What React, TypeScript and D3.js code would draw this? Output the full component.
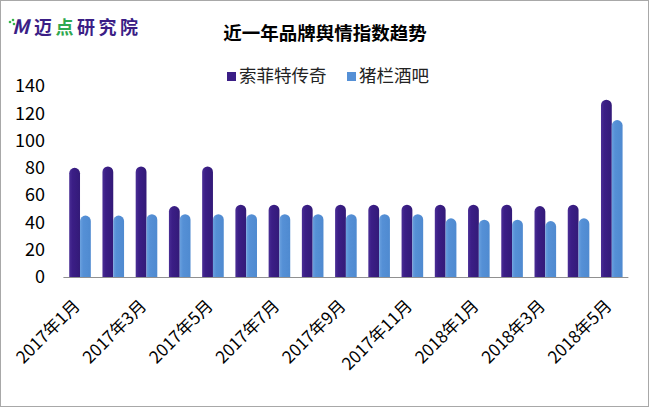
import * as d3 from 'd3';

const months = [
    '2017年1月', '2017年2月', '2017年3月', '2017年4月', '2017年5月', '2017年6月',
    '2017年7月', '2017年8月', '2017年9月', '2017年10月', '2017年11月', '2017年12月',
    '2018年1月', '2018年2月', '2018年3月', '2018年4月', '2018年5月',
];
const seriesNames = ['索菲特传奇', '猪栏酒吧'];
const sofitel = [80, 81, 81, 52, 81, 53, 53, 53, 53, 53, 53, 53, 53, 53, 52, 53, 130];
const zhulan = [45, 45, 46, 46, 46, 46, 46, 46, 46, 46, 46, 43, 42, 42, 41, 43, 115];
const yTicks = [0, 20, 40, 60, 80, 100, 120, 140];

const colors = ['#3b1e86', '#5590d6'];
const font = '"Noto Sans CJK SC", "Noto Sans", sans-serif';

function App() {
    const width = 650, height = 408;
    const left = 63.4, right = 628.4, base = 277, top = 86;

    const x0 = d3.scaleBand<string>()
        .domain(months)
        .range([left, right])
        .paddingInner(0.35)
        .paddingOuter(0.175);

    const x1 = d3.scaleBand<string>()
        .domain(seriesNames)
        .range([0, x0.bandwidth()]);

    const y = d3.scaleLinear()
        .domain([0, 140])
        .range([base, top]);

    const series = [sofitel, zhulan];

    // column with a round top
    const bar = (x: number, w: number, v: number) => {
        const r = w / 2;
        const t = y(v);
        return `M${x},${base}L${x},${t + r}A${r},${r} 0 0 1 ${x + w},${t + r}L${x + w},${base}Z`;
    };

    return (
        <svg width={width} height={height} style={{ position: 'absolute', left: 0, top: 0, display: 'block' }}
            fontFamily={font}>
            <defs>
                <linearGradient id="g0" x1="0" x2="1" y1="0" y2="0">
                    <stop offset="0" stopColor="#4a2e95" />
                    <stop offset="0.3" stopColor="#3b1e86" />
                    <stop offset="1" stopColor="#331a78" />
                </linearGradient>
                <linearGradient id="g1" x1="0" x2="1" y1="0" y2="0">
                    <stop offset="0" stopColor="#6aa0de" />
                    <stop offset="0.3" stopColor="#5590d6" />
                    <stop offset="1" stopColor="#4f8ad0" />
                </linearGradient>
            </defs>
            <rect x={0.5} y={0.5} width={width - 2} height={height - 2} fill="#fff" stroke="#a8a8a8" />

            {/* logo */}
            <g fontWeight="bold" fontSize={18}>
                <circle cx={10} cy={22} r={1.3} fill="#39b54a" />
                <circle cx={13} cy={20} r={1.3} fill="#39b54a" />
                <circle cx={14} cy={24} r={1.3} fill="#39b54a" />
                <text x={12} y={34} fill="#3b1e86" fontStyle="italic" fontSize={20}>M</text>
                <text x={34} y={34} fill="#3b1e86" letterSpacing={3.5}>
                    迈<tspan fill="#2fa84f">点</tspan>研究院
                </text>
            </g>

            <text x={325} y={40} textAnchor="middle" fontWeight="bold" fontSize={18.5} fill="#000">
                近一年品牌舆情指数趋势
            </text>

            {/* legend */}
            <g fontSize={17.5} fill="#222">
                <rect x={227} y={72} width={9} height={9} fill={colors[0]} />
                <text x={239} y={82}>{seriesNames[0]}</text>
                <rect x={347} y={72} width={9} height={9} fill={colors[1]} />
                <text x={359} y={82}>{seriesNames[1]}</text>
            </g>

            {/* y axis labels */}
            <g fontSize={18} fill="#000" textAnchor="end">
                {yTicks.map(t => (
                    <text key={t} x={45} y={y(t)} dy="0.35em">{t}</text>
                ))}
            </g>

            {/* bars */}
            {months.map((m, i) => (
                <g key={m} transform={`translate(${x0(m)},0)`}>
                    {series.map((s, k) => (
                        <path key={k} d={bar(x1(seriesNames[k]) as number, x1.bandwidth(), s[i])}
                            fill={`url(#g${k})`} />
                    ))}
                </g>
            ))}

            <line x1={left} x2={right} y1={base + 0.5} y2={base + 0.5} stroke="#909090" />

            {/* x labels, every second month */}
            <g fontSize={17} fill="#000" textAnchor="end">
                {months.map((m, i) => {
                    if (i % 2 !== 0) return null;
                    const cx = (x0(m) as number) + x0.bandwidth() / 2 + 1;
                    const cy = base + 30;
                    return (
                        <text key={m} x={cx} y={cy} transform={`rotate(-45,${cx},${cy})`}>{m}</text>
                    );
                })}
            </g>
        </svg>
    );
}

export default App;
